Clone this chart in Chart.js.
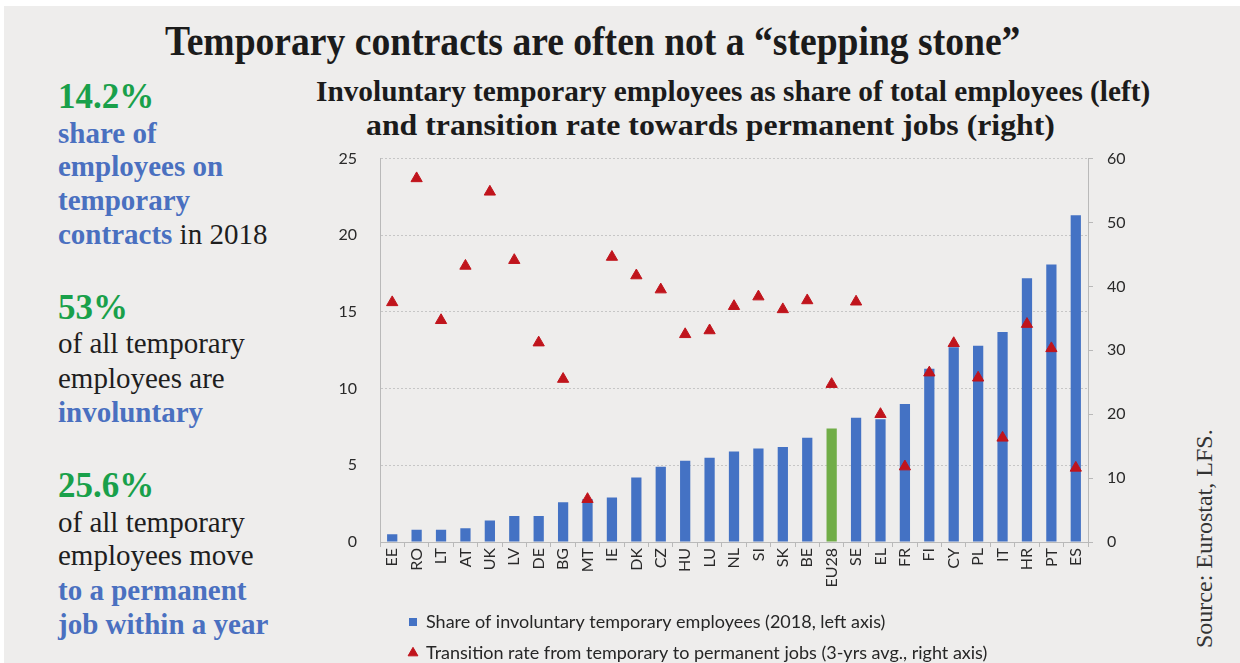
<!DOCTYPE html>
<html>
<head>
<meta charset="UTF-8">
<title>Temporary contracts are often not a stepping stone</title>
<script src="https://cdn.jsdelivr.net/npm/chart.js"></script>
<style>
  body { margin: 0; width: 1240px; height: 663px; overflow: hidden; background: #fff; font-family: "Liberation Serif", serif; }
  #bg { position: absolute; left: 4px; top: 6px; right: 0; bottom: 0; background: #eeedec; }
  .t { position: absolute; white-space: nowrap; line-height: 1; }
  .fit { transform-origin: 0 0; font-weight: bold; color: #1b1b1b; }
  .num { font-size: 35px; font-weight: bold; color: #19a04a; }
  .txt { font-size: 29px; color: #1e1e1e; }
  .b { font-weight: bold; color: #4a70c0; }
  #src { position: absolute; left: 1192px; top: 648px; font-size: 24px; line-height: 1; color: #333;
         white-space: nowrap; transform-origin: 0 0; transform: rotate(-90deg); }
  #wrap { position: absolute; left: 300px; top: 126px; }
</style>
</head>
<body>
  <div id="bg"></div>

  <div class="t fit" style="left:165px; top:20px; font-size:42px;" data-w="855">Temporary contracts are often not a “stepping stone”</div>
  <div class="t fit" style="left:316px; top:76px; font-size:30px;" data-w="834">Involuntary temporary employees as share of total employees (left)</div>
  <div class="t fit" style="left:366px; top:110px; font-size:30px;" data-w="689">and transition rate towards permanent jobs (right)</div>

  <div class="t num" style="left:58px; top:78.5px;">14.2%</div>
  <div class="t txt b" style="left:58px; top:118.5px;">share of</div>
  <div class="t txt b" style="left:58px; top:152px;">employees on</div>
  <div class="t txt b" style="left:58px; top:185.5px;">temporary</div>
  <div class="t txt" style="left:58px; top:219.5px;"><span class="b">contracts</span> in 2018</div>

  <div class="t num" style="left:58px; top:289.5px;">53%</div>
  <div class="t txt" style="left:58px; top:329px;">of all temporary</div>
  <div class="t txt" style="left:58px; top:363.5px;">employees are</div>
  <div class="t txt b" style="left:58px; top:398px;">involuntary</div>

  <div class="t num" style="left:58px; top:468px;">25.6%</div>
  <div class="t txt" style="left:58px; top:507.5px;">of all temporary</div>
  <div class="t txt" style="left:58px; top:541px;">employees move</div>
  <div class="t txt b" style="left:58px; top:575.5px;">to a permanent</div>
  <div class="t txt b" style="left:58px; top:609.5px;">job within a year</div>

  <div id="src">Source: Eurostat, LFS.</div>

  <div id="wrap"><canvas id="chart" width="860" height="546"></canvas></div>

  <script>
    const countries = ['EE','RO','LT','AT','UK','LV','DE','BG','MT','IE','DK','CZ','HU','LU','NL',
                       'SI','SK','BE','EU28','SE','EL','FR','FI','CY','PL','IT','HR','PT','ES'];
    // % of total employees, 2018 (left axis)
    const shareInvoluntary = [0.5, 0.8, 0.8, 0.9, 1.4, 1.7, 1.7, 2.6, 2.8, 2.9, 4.2, 4.9, 5.3, 5.5, 5.9,
                              6.1, 6.2, 6.8, 7.4, 8.1, 8.0, 9.0, 11.3, 12.7, 12.8, 13.7, 17.2, 18.1, 21.3];
    // transition rate to permanent jobs, 3-yr avg (right axis)
    const transitionRate = [37.5, 56.9, 34.7, 43.2, 54.8, 44.1, 31.2, 25.5, 6.7, 44.6, 41.7, 39.5, 32.5, 33.1, 36.9,
                            38.4, 36.4, 37.8, 24.7, 37.6, 20.0, 11.8, 26.5, 31.1, 25.7, 16.3, 34.1, 30.3, 11.6];

    const BLUE = '#4472c4', GREEN = '#70ad47', RED = '#c0141c';
    const AXIS = '#b9b9b9', LABEL = '#2a2a2a';

    // squeeze the condensed headline texts to their widths
    document.querySelectorAll('.fit').forEach(el => {
      el.style.transform = 'scaleX(' + (Number(el.dataset.w) / el.offsetWidth) + ')';
    });

    // legend rows start a bit right of the plot's left edge
    const legendShift = {
      id: 'legendShift',
      afterLayout(chart) {
        chart.legend.left += 16;
        chart.legend.right += 16;
      }
    };

    const tickFont = { family: 'Lato', size: 16 };

    new Chart(document.getElementById('chart'), {
      type: 'bar',
      data: {
        labels: countries,
        datasets: [{
          label: 'Share of involuntary temporary employees (2018, left axis)',
          data: shareInvoluntary,
          backgroundColor: countries.map(c => c === 'EU28' ? GREEN : BLUE),
          barPercentage: 0.42,
          categoryPercentage: 1,
          pointStyle: 'rect',
          yAxisID: 'y',
          order: 1
        }, {
          type: 'line',
          label: 'Transition rate from temporary to permanent jobs (3-yrs avg., right axis)',
          data: transitionRate,
          showLine: false,
          pointStyle: 'triangle',
          pointRadius: 6.5,
          pointHoverRadius: 6.5,
          backgroundColor: RED,
          borderColor: RED,
          borderWidth: 1,
          yAxisID: 'y1',
          order: 0
        }]
      },
      options: {
        responsive: false,
        animation: false,
        layout: { padding: { top: 10 } },
        plugins: {
          tooltip: { enabled: false },
          legend: {
            position: 'bottom',
            align: 'start',
            fullSize: false,
            labels: {
              usePointStyle: true,
              boxWidth: 8,
              boxHeight: 8,
              padding: 13,
              color: '#262626',
              font: { family: 'Lato', size: 18 },
              sort: (a, b) => a.datasetIndex - b.datasetIndex
            }
          }
        },
        scales: {
          x: {
            afterFit: s => { s.height = 58; },
            grid: { offset: true, drawOnChartArea: false, tickLength: 5, color: AXIS },
            border: { color: AXIS },
            ticks: { minRotation: 90, maxRotation: 90, autoSkip: false, padding: 1,
                     color: LABEL, font: tickFont }
          },
          y: {
            position: 'left',
            min: 0, max: 25,
            afterFit: s => { s.width = 80; },
            grid: { color: '#c6c6c6', drawTicks: false },
            border: { color: AXIS, dash: [2, 2] },
            ticks: { stepSize: 5, padding: 23, color: LABEL, font: tickFont }
          },
          y1: {
            position: 'right',
            min: 0, max: 60,
            afterFit: s => { s.width = 72; },
            grid: { drawOnChartArea: false, tickLength: 5, color: AXIS },
            border: { color: AXIS },
            ticks: { stepSize: 10, padding: 14, color: LABEL, font: tickFont }
          }
        }
      },
      plugins: [legendShift]
    });
  </script>
</body>
</html>
